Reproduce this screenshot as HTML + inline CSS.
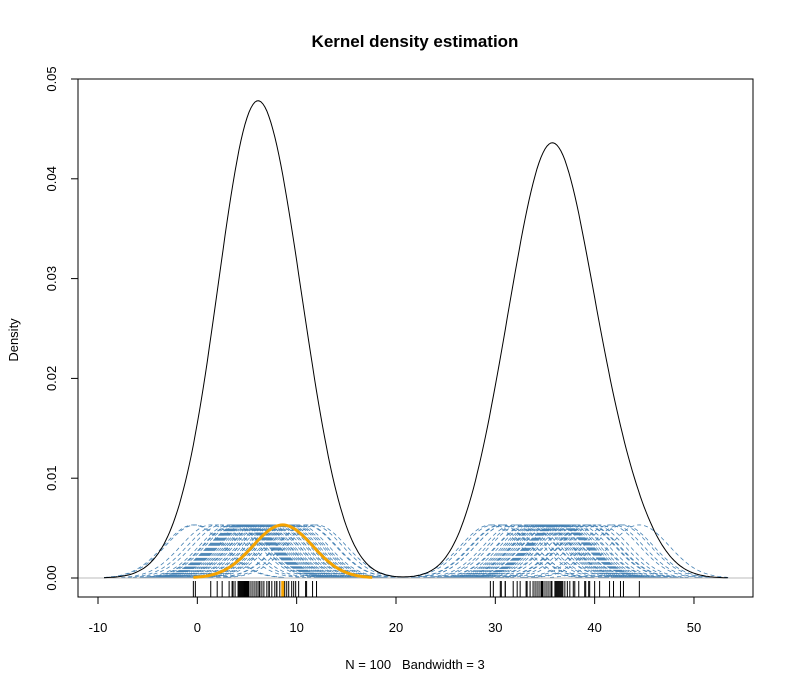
<!DOCTYPE html>
<html><head><meta charset="utf-8"><style>
body{margin:0;background:#fff}
svg{display:block;font-family:"Liberation Sans",Arial,sans-serif}
</style></head><body>
<svg id="chart" width="794" height="695">
<text x="415" y="47" text-anchor="middle" font-weight="bold" font-size="17">Kernel density estimation</text>
<text x="415" y="669" text-anchor="middle" font-size="13" xml:space="preserve">N = 100   Bandwidth = 3</text>
<text transform="translate(18,340) rotate(-90)" text-anchor="middle" font-size="13">Density</text>
<g id="blue"></g>
<g id="main"></g>
<rect x="78" y="79" width="675" height="518" fill="none" stroke="#000"/>
</svg>
<script>
const dataPoints=[-0.4,-0.2,1.35,2.5,3.5,3.6,3.8,4.1,4.2,4.3,4.4,4.5,4.6,4.7,4.8,4.9,5.0,5.1,5.4,5.6,5.8,6.0,6.3,6.7,7.25,8.0,8.3,8.6,9.5,9.7,9.9,10.9,11.6,7.2,11.0,12.0,6.0,6.5,7.0,7.5,8.8,9.0,3.2,5.2,6.2,7.8,9.2,10.2,2.0,8.0,
29.5,30.5,30.6,31.0,32.2,32.5,33.1,33.2,33.5,34.2,34.4,34.6,34.7,34.8,35.0,35.4,35.6,35.7,36.0,36.1,36.2,36.3,36.4,36.5,36.6,36.7,36.8,37.0,37.25,37.85,38.4,39.1,39.4,39.5,40.5,41.5,41.9,42.6,42.9,44.5,33.8,35.2,31.0,40.0,37.5,38.0,34.0,39.0,31.8,29.8];
const highlightIndex=27;
const bandwidth=3;
const xTicks=[-10,0,10,20,30,40,50];
const yTicks=[0,0.01,0.02,0.03,0.04,0.05];
const X=v=>98+(v+10)*9.933, Y=v=>578-v*9980;
const NS='http://www.w3.org/2000/svg';
const blue=document.getElementById('blue'), main=document.getElementById('main'), svg=document.getElementById('chart');
function mk(t,a,p){const e=document.createElementNS(NS,t);for(const k in a)e.setAttribute(k,a[k]);(p||main).appendChild(e);return e;}
const dn=(x,m)=>Math.exp(-0.5*((x-m)/bandwidth)**2)/(bandwidth*Math.sqrt(2*Math.PI));
function kpath(m){let d='';for(let x=m-3*bandwidth;x<=m+3*bandwidth+1e-9;x+=0.2){d+=(d?'L':'M')+X(x).toFixed(1)+','+Y(dn(x,m)/25).toFixed(1);}return d;}
mk('line',{x1:78,x2:753,y1:Y(0),y2:Y(0),stroke:'#bbb'});
dataPoints.forEach((m,i)=>{const p=mk('path',{d:kpath(m),fill:'none',stroke:'#4682b4','stroke-width':0.8,'stroke-dasharray':'4,3'},blue);

});
let mn=Math.min(...dataPoints)-3*bandwidth,mx=Math.max(...dataPoints)+3*bandwidth,d='';
for(let x=mn;x<=mx;x+=0.2){let s=0;dataPoints.forEach(m=>s+=dn(x,m));s/=dataPoints.length;d+=(d?'L':'M')+X(x).toFixed(1)+','+Y(s).toFixed(1);}
const dl=mk('path',{d:d,fill:'none',stroke:'#000','stroke-width':1});


const hl=mk('path',{d:kpath(dataPoints[highlightIndex]),fill:'none',stroke:'#f5a300','stroke-width':3});


dataPoints.forEach((m,i)=>{const r=mk('line',{x1:X(m),x2:X(m),y1:581,y2:597,stroke:i===highlightIndex?'#f5a300':'#000','stroke-width':i===highlightIndex?3:1});

});
xTicks.forEach(t=>{mk('line',{x1:X(t),x2:X(t),y1:597,y2:604,stroke:'#000'},svg);
const tx=mk('text',{x:X(t),y:632,'text-anchor':'middle','font-size':13},svg);tx.textContent=t;

});
yTicks.forEach(t=>{mk('line',{x1:71,x2:78,y1:Y(t),y2:Y(t),stroke:'#000'},svg);
const tx=mk('text',{transform:`translate(56,${Y(t)}) rotate(-90)`,'text-anchor':'middle','font-size':13},svg);tx.textContent=t.toFixed(2);

});
</script>
</body></html>
